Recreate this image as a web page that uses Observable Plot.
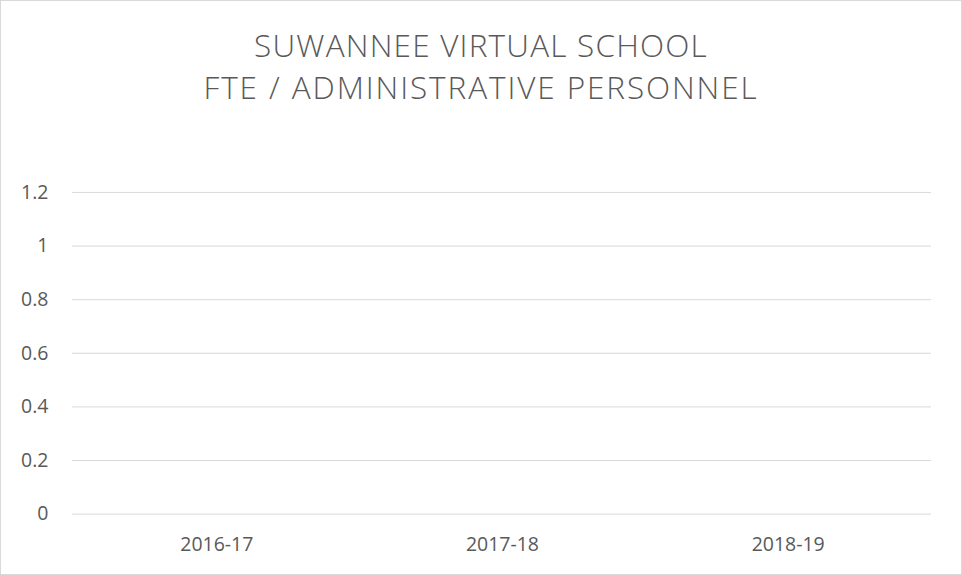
<!DOCTYPE html>
<html>
<head>
<meta charset="utf-8">
<script src="https://cdn.jsdelivr.net/npm/d3@7"></script>
<script src="https://cdn.jsdelivr.net/npm/@observablehq/plot@0.6"></script>
<style>
  html, body { margin: 0; padding: 0; background: #fff; }
  #frame { position: relative; width: 962px; height: 575px; box-sizing: border-box; border: 1px solid #d9d9d9; overflow: hidden; background: #fff; font-family: "Open Sans", sans-serif; }
  #title { position: absolute; left: 0; top: 23px; width: 960px; text-align: center; color: #595959; font-weight: 300; font-size: 31.5px; line-height: 42px; letter-spacing: 1.2px; }
  #title .l2 { letter-spacing: 1.9px; }
  #chart { position: absolute; left: -1px; top: 139px; }
</style>
</head>
<body>
<div id="frame">
  <div id="title"><span class="l1">SUWANNEE VIRTUAL SCHOOL</span><br><span class="l2">FTE / ADMINISTRATIVE PERSONNEL</span></div>
  <div id="chart"></div>
</div>
<script>
const years = ["2016-17", "2017-18", "2018-19"];
const values = [0, 0, 0];
const yTicks = [0, 0.2, 0.4, 0.6, 0.8, 1, 1.2];

const data = years.map((year, i) => ({year, value: values[i]}));

const chart = Plot.plot({
  width: 962,
  height: 435,
  marginTop: 52,
  marginBottom: 61,
  marginLeft: 72,
  marginRight: 30,
  style: {fontFamily: "Open Sans, sans-serif", fontSize: "19.5px", color: "#595959", background: "transparent"},
  x: {domain: years, label: null, paddingInner: 0.5, paddingOuter: 0.25, align: 0.5},
  y: {domain: [0, 1.2], label: null},
  marks: [
    Plot.gridY(yTicks, {stroke: "#d9d9d9", strokeOpacity: 1, strokeWidth: 1}),
    Plot.barY(data, {x: "year", y: "value", fill: "#4472c4"}),
    Plot.axisY(yTicks, {tickSize: 0, tickPadding: 24, tickFormat: d => String(d), fill: "#595959", fontSize: 19.5}),
    Plot.axisX(years, {tickSize: 0, tickPadding: 23, fill: "#595959", fontSize: 19.5})
  ]
});
document.getElementById("chart").appendChild(chart);
</script>
</body>
</html>
